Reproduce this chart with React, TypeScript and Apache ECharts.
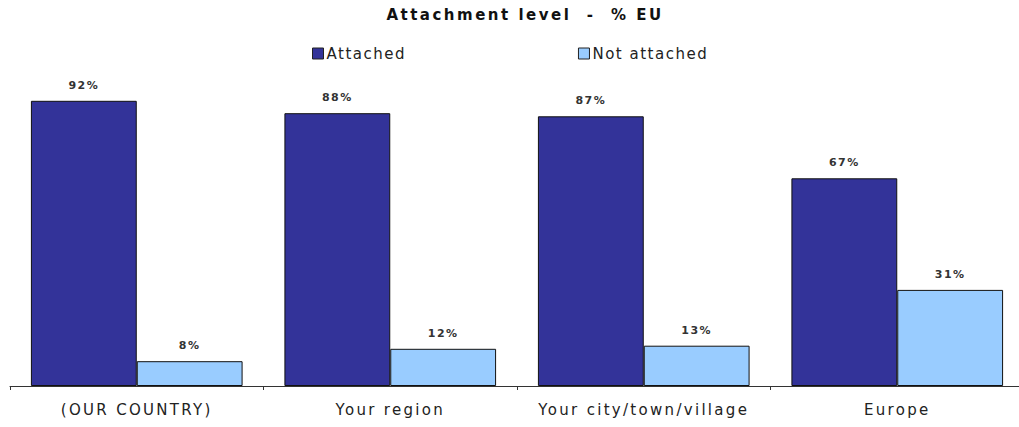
import React, { useEffect, useRef } from "react";
import * as echarts from "echarts";

const categories = ["(OUR COUNTRY)", "Your region", "Your city/town/village", "Europe"];
const attached = [92, 88, 87, 67];
const notAttached = [8, 12, 13, 31];
const seriesNames = ["Attached", "Not attached"];
const titleText = "Attachment level  -  % EU";

export default function App() {
  const ref = useRef<HTMLDivElement>(null);
  useEffect(() => {
    if (!ref.current) return;
    const chart = echarts.init(ref.current, null, { renderer: "svg" });
    const font = "DejaVu Sans, Verdana, sans-serif";
    const labelCfg = {
      show: true,
      position: "top",
      distance: 10,
      formatter: "{c}%",
      fontFamily: font,
      fontSize: 11,
      fontWeight: "bold",
      color: "#333",
    };
    chart.setOption({
      animation: false,
      backgroundColor: "#fff",
      title: {
        text: titleText,
        left: 520,
        textAlign: "center",
        top: 2,
        textStyle: { fontFamily: font, fontSize: 15, fontWeight: "bold", color: "#111" },
      },
      legend: {
        left: 307,
        top: 41,
        itemWidth: 11,
        itemHeight: 11,
        itemGap: 184,
        icon: "rect",
        textStyle: { fontFamily: font, fontSize: 15, color: "#222", padding: [0, 0, 0, -2] },
        data: seriesNames.map((n) => ({ name: n, itemStyle: { borderColor: "#222", borderWidth: 1 } })),
      },
      grid: {
        left: 10,
        width: 1014,
        top: 76,
        bottom: 41,
        containLabel: false,
        outerBoundsMode: "none",
      },
      xAxis: {
        type: "category",
        data: categories,
        axisLine: { lineStyle: { color: "#333", width: 1 } },
        axisTick: { show: true, length: 4, lineStyle: { color: "#333" } },
        axisLabel: { fontFamily: font, fontSize: 15, color: "#222", margin: 16 },
      },
      yAxis: { type: "value", min: 0, max: 100, show: false, splitLine: { show: false } },
      series: [
        {
          name: seriesNames[0],
          type: "bar",
          data: attached,
          barGap: "0%",
          barCategoryGap: "16.5%",
          itemStyle: { color: "#333399", borderColor: "#111", borderWidth: 1 },
          label: labelCfg,
        },
        {
          name: seriesNames[1],
          type: "bar",
          data: notAttached,
          itemStyle: { color: "#99CCFF", borderColor: "#111", borderWidth: 1 },
          label: labelCfg,
        },
      ],
    });
    // widen letter spacing to match the reference's spaced-out lettering
    const texts = ref.current.querySelectorAll("text");
    texts.forEach((t) => {
      const s = t.textContent || "";
      let sp = 0;
      if (s === titleText) sp = 2.5;
      else if (seriesNames.includes(s)) sp = 1.5;
      else if (categories.includes(s)) sp = 2.3;
      else if (/%$/.test(s)) sp = 1.5;
      if (sp) t.setAttribute("letter-spacing", String(sp));
    });
    return () => chart.dispose();
  }, []);
  return (
    <div
      ref={ref}
      style={{ position: "fixed", left: 0, top: 0, width: 1019, height: 427, background: "#fff" }}
    />
  );
}
